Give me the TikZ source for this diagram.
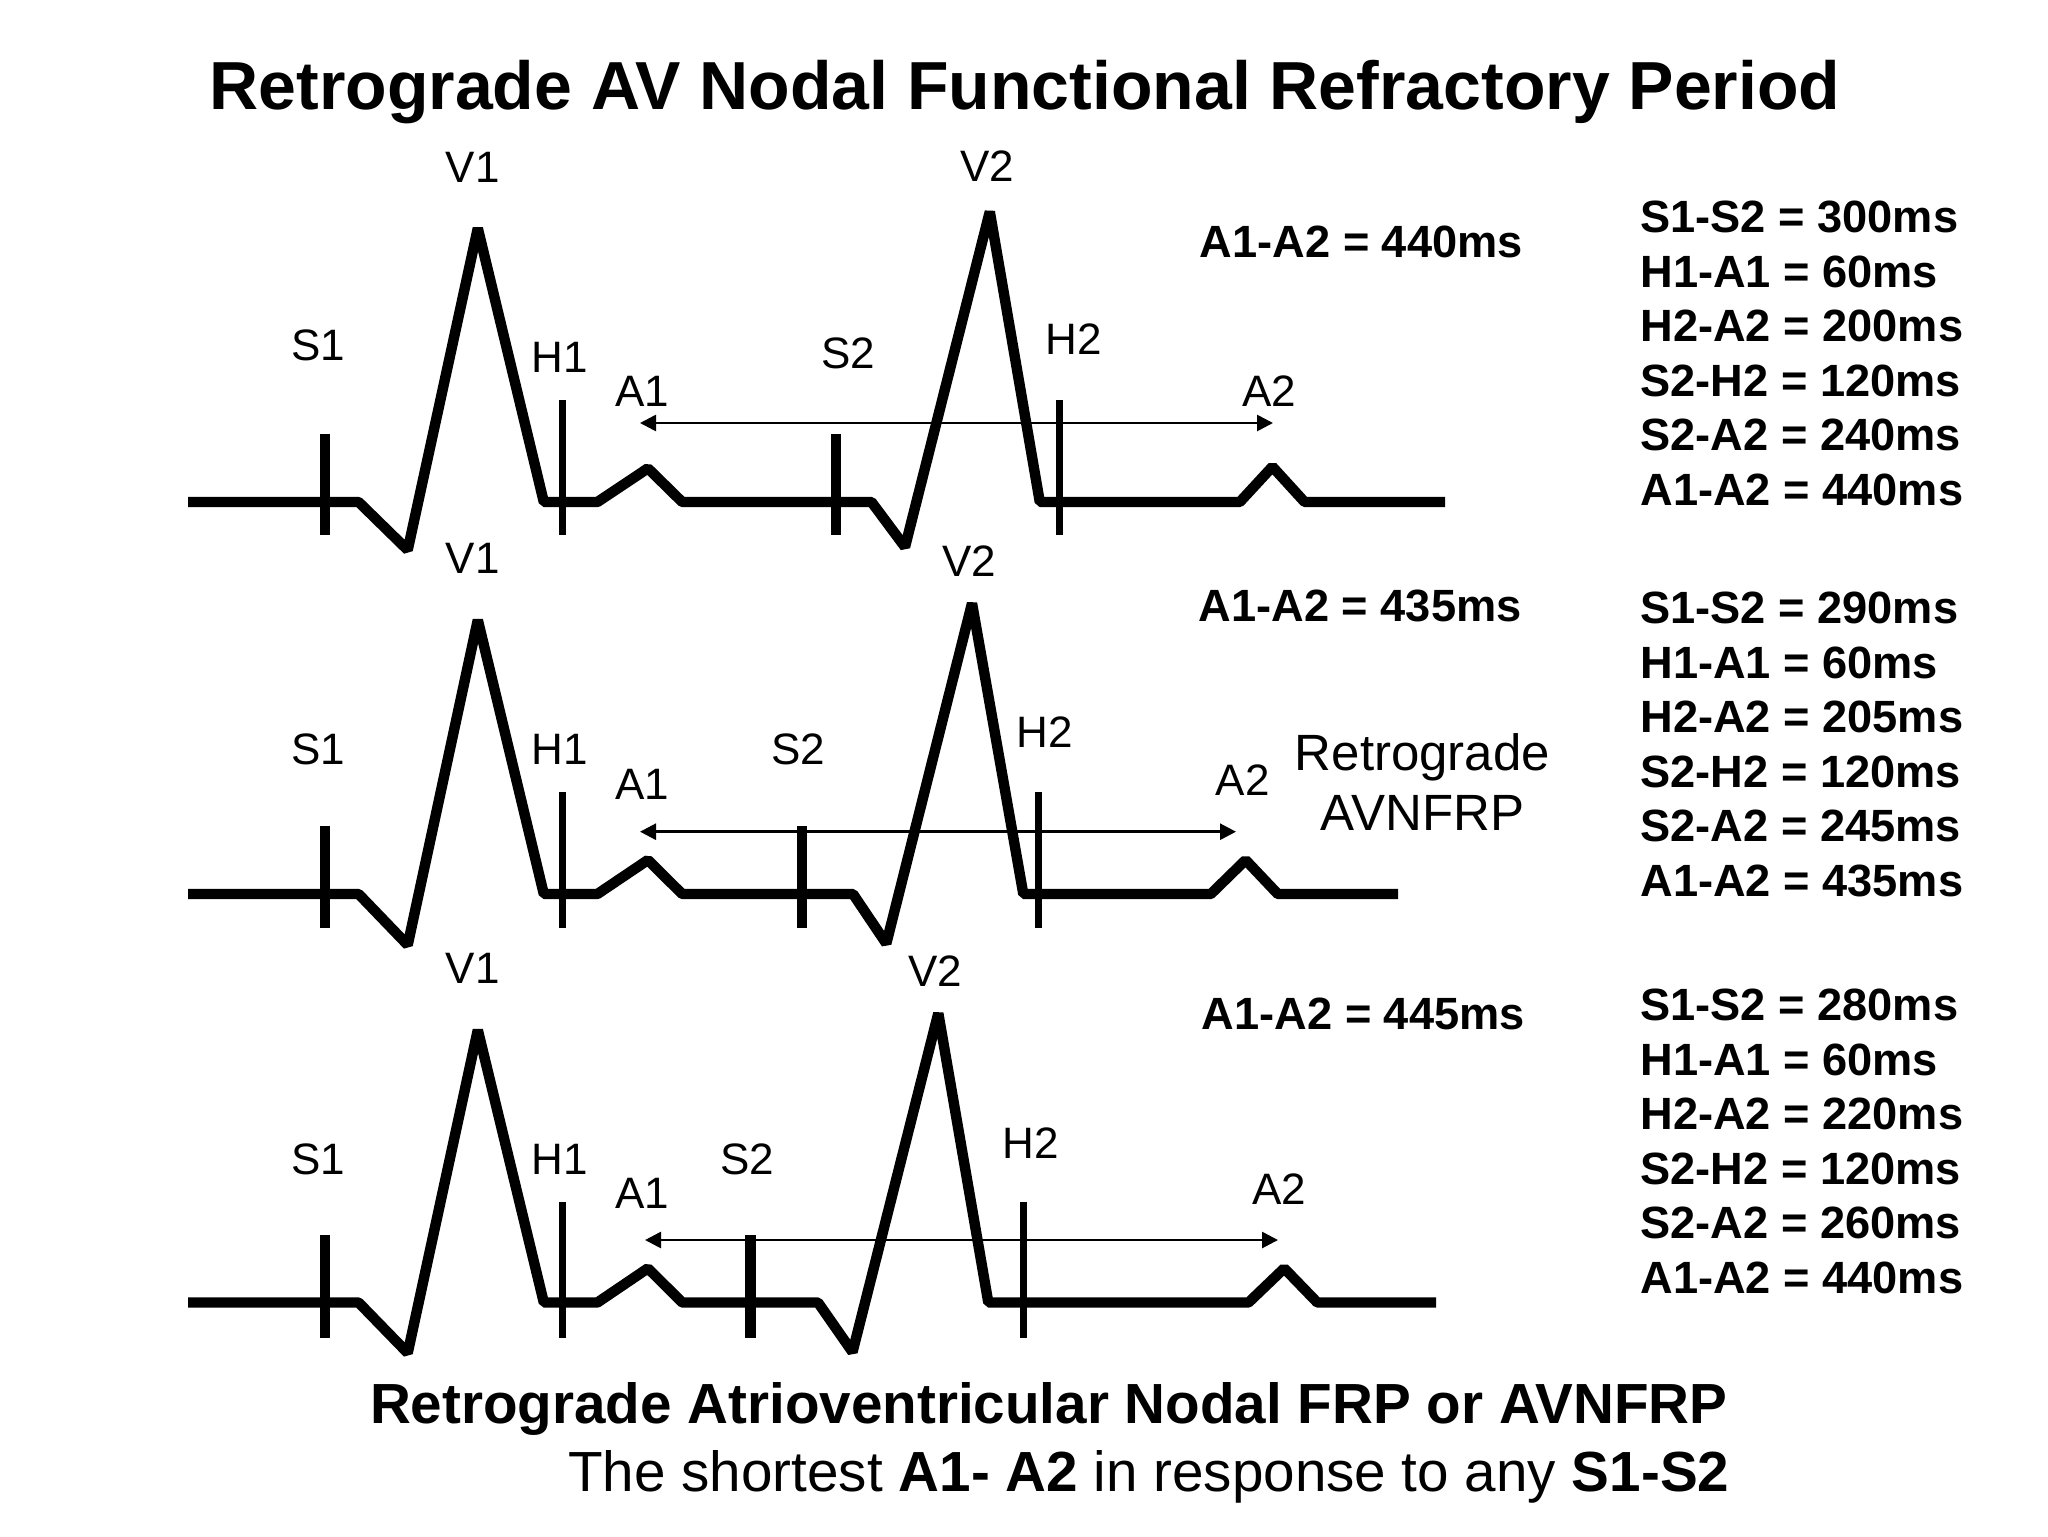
\documentclass[tikz,border=0pt]{standalone}
\usepackage{fontspec}
\setmainfont{Liberation Sans}
\usetikzlibrary{arrows.meta}
\begin{document}
\begin{tikzpicture}[x=0.5pt, y=-0.5pt,
  trace/.style={line width=5.2pt, line join=bevel},
  stim/.style={line width=5.3pt},
  his/.style={line width=3.5pt},
  interval/.style={line width=1.35pt, {Triangle[length=8pt,width=8pt]}-{Triangle[length=8pt,width=8pt]}},
  lbl/.style={font=\fontsize{22}{26}\selectfont, anchor=base, inner sep=0pt},
  val/.style={font=\fontsize{22.6}{26}\selectfont\bfseries, anchor=base west, inner sep=0pt},
  big/.style={font=\fontsize{25.5}{30}\selectfont, anchor=base, inner sep=0pt},
  foot/.style={font=\fontsize{28.3}{34}\selectfont, anchor=base west, inner sep=0pt},
  ttl/.style={font=\fontsize{34}{40}\selectfont\bfseries, anchor=base, inner sep=0pt}]
\useasboundingbox (0,0) rectangle (2048,1536);
\fill[white] (0,0) rectangle (2048,1536);

% title
\node[ttl] (title) at (1025,110) {Retrograde AV Nodal Functional Refractory Period};

% ---------- trace 1 ----------
\draw[trace] (188,502) -- (358.6,502) -- (407.7,550) -- (477.8,228.3) -- (543.8,502)
  -- (597.4,502) -- (647.9,468.3) -- (682.2,502) -- (871.5,502) -- (905,547)
  -- (989.8,211.7) -- (1039.8,502) -- (1239.8,502) -- (1272.4,466.7) -- (1304.6,502) -- (1445.2,502);
\draw[stim] (325,434) -- (325,535);
\draw[his] (562.6,400) -- (562.6,535);
\draw[stim] (836,434) -- (836,535);
\draw[his] (1059,400) -- (1059,535);
\coordinate (a1l) at (640,423);
\coordinate (a1r) at (1273,423);
\draw[interval] (a1l) -- (a1r);
\node[lbl] (t1V1) at (472.8,182.7) {V1};
\node[lbl] (t1S1) at (318,360) {S1};
\node[lbl] (t1H1) at (560,372) {H1};
\node[lbl] (t1A1) at (642.5,406) {A1};
\node[lbl] (t1S2) at (848.5,368) {S2};
\node[lbl] (t1V2) at (987.5,181) {V2};
\node[lbl] (t1H2) at (1073.5,354.5) {H2};
\node[lbl] (t1A2) at (1269,406) {A2};
\node[val] (t1int) at (1199.5,257.3) {A1-A2 = 440ms};

% ---------- trace 2 ----------
\draw[trace] (188,894) -- (358.6,894) -- (407.7,945) -- (477.8,620) -- (543.8,894)
  -- (597.4,894) -- (647.9,860) -- (682.2,894) -- (853,894) -- (886.3,943.5)
  -- (972,603.3) -- (1023.3,894) -- (1210.8,894) -- (1245.6,860) -- (1277.8,894) -- (1398,894);
\draw[stim] (325,826) -- (325,928);
\draw[his] (562.6,792) -- (562.6,928);
\draw[stim] (802,826) -- (802,928);
\draw[his] (1038,792) -- (1038,928);
\coordinate (a2l) at (640,831.7);
\coordinate (a2r) at (1236,831.7);
\draw[interval] (a2l) -- (a2r);
\node[lbl] (t2V1) at (472.8,573) {V1};
\node[lbl] (t2S1) at (318,764) {S1};
\node[lbl] (t2H1) at (560,764) {H1};
\node[lbl] (t2A1) at (642.5,799) {A1};
\node[lbl] (t2S2) at (798,764) {S2};
\node[lbl] (t2V2) at (969,576) {V2};
\node[lbl] (t2H2) at (1045,747) {H2};
\node[lbl] (t2A2) at (1242.7,795) {A2};
\node[val] (t2int) at (1198.3,621.7) {A1-A2 = 435ms};
\node[big] (retro1) at (1422.5,770.7) {Retrograde};
\node[big] (retro2) at (1422.5,830.7) {AVNFRP};

% ---------- trace 3 ----------
\draw[trace] (188,1302.5) -- (358.6,1302.5) -- (407.7,1353) -- (477.8,1030) -- (543.8,1302.5)
  -- (597.4,1302.5) -- (647.9,1268.3) -- (682.2,1302.5) -- (818,1302.5) -- (852.5,1352)
  -- (938.3,1013.3) -- (988.3,1302.5) -- (1248.5,1302.5) -- (1284.2,1268.3) -- (1317.3,1302.5) -- (1436,1302.5);
\draw[stim] (325,1235) -- (325,1338);
\draw[his] (562.6,1202) -- (562.6,1338);
\draw[stim] (750.5,1235) -- (750.5,1338);
\draw[his] (1023,1202) -- (1023,1338);
\coordinate (a3l) at (645,1240);
\coordinate (a3r) at (1278,1240);
\draw[interval] (a3l) -- (a3r);
\node[lbl] (t3V1) at (472.8,983) {V1};
\node[lbl] (t3S1) at (318,1174) {S1};
\node[lbl] (t3H1) at (560,1174) {H1};
\node[lbl] (t3A1) at (642.5,1208) {A1};
\node[lbl] (t3S2) at (747,1174) {S2};
\node[lbl] (t3V2) at (935,986) {V2};
\node[lbl] (t3H2) at (1031,1158) {H2};
\node[lbl] (t3A2) at (1279.5,1204) {A2};
\node[val] (t3int) at (1201.5,1029) {A1-A2 = 445ms};

% ---------- right value blocks ----------
\node[val] (b1a) at (1640,232.7) {S1-S2 = 300ms};
\node[val] (b1b) at (1640,287.2) {H1-A1 = 60ms};
\node[val] (b1c) at (1640,341.7) {H2-A2 = 200ms};
\node[val] (b1d) at (1640,396.2) {S2-H2 = 120ms};
\node[val] (b1e) at (1640,450.7) {S2-A2 = 240ms};
\node[val] (b1f) at (1640,505.2) {A1-A2 = 440ms};

\node[val] (b2a) at (1640,623.8) {S1-S2 = 290ms};
\node[val] (b2b) at (1640,678.3) {H1-A1 = 60ms};
\node[val] (b2c) at (1640,732.8) {H2-A2 = 205ms};
\node[val] (b2d) at (1640,787.3) {S2-H2 = 120ms};
\node[val] (b2e) at (1640,841.8) {S2-A2 = 245ms};
\node[val] (b2f) at (1640,896.3) {A1-A2 = 435ms};

\node[val] (b3a) at (1640,1020.8) {S1-S2 = 280ms};
\node[val] (b3b) at (1640,1075.3) {H1-A1 = 60ms};
\node[val] (b3c) at (1640,1129.8) {H2-A2 = 220ms};
\node[val] (b3d) at (1640,1184.3) {S2-H2 = 120ms};
\node[val] (b3e) at (1640,1238.8) {S2-A2 = 260ms};
\node[val] (b3f) at (1640,1293.3) {A1-A2 = 440ms};

% ---------- footer ----------
\node[foot, font=\fontsize{28.3}{34}\selectfont\bfseries] (foot1) at (369.6,1423.3) {Retrograde Atrioventricular Nodal FRP or AVNFRP};
\node[foot] (foot2) at (568,1491.7) {The shortest \textbf{A1- A2} in response to any \textbf{S1-S2}};
\end{tikzpicture}
\end{document}
